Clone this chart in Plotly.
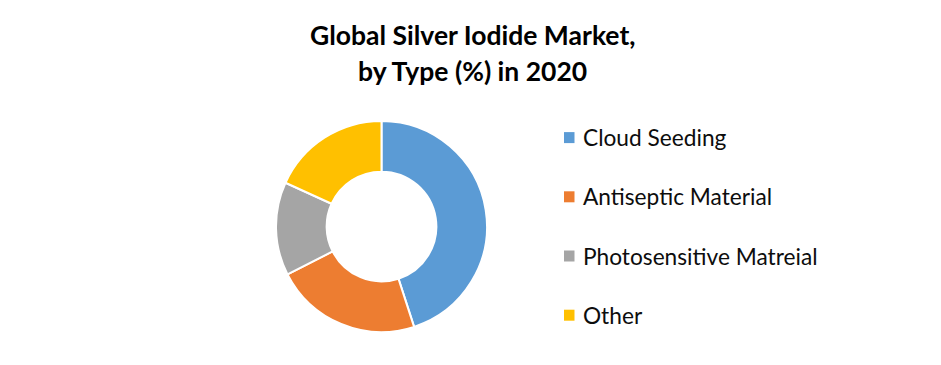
import plotly.graph_objects as go

labels = ["Cloud Seeding", "Antiseptic Material", "Photosensitive Matreial", "Other"]
values = [45.0, 22.5, 14.3, 18.2]
colors = ["#5B9BD5", "#ED7D31", "#A5A5A5", "#FFC000"]
title_lines = ["Global Silver Iodide Market,", "by Type (%) in 2020"]

W, H = 941, 365
OFF = 8  # page body margin in pixels
FONT = "Lato"


def px(x):
    return (x - OFF) / W


def py(y):
    return (H - (y - OFF)) / H


fig = go.Figure(go.Pie(
    labels=labels,
    values=values,
    marker=dict(colors=colors, line=dict(color="white", width=2)),
    hole=0.52,
    sort=False,
    direction="clockwise",
    rotation=0,
    textinfo="none",
    hoverinfo="label+percent",
    showlegend=False,
    domain=dict(x=[px(276), px(487)], y=[py(332), py(121)]),
))

# Legend drawn as text + square markers
leg_x0 = 564
leg_y0 = 137.6
leg_step = 59.2
for i, (lab, col) in enumerate(zip(labels, colors)):
    yc = leg_y0 + i * leg_step
    fig.add_shape(type="rect", xref="paper", yref="paper",
                  x0=px(leg_x0), x1=px(leg_x0 + 10.5),
                  y0=py(yc + 5.5), y1=py(yc - 5.5),
                  fillcolor=col, line=dict(width=0))
    fig.add_annotation(text=lab, xref="paper", yref="paper",
                       x=px(580.5), y=py(yc),
                       xanchor="left", yanchor="middle", showarrow=False,
                       font=dict(family=FONT, size=22.7, color="#0d0d0d"))

# Title (two lines)
title_y = [35.0, 70.5]
for line, yc in zip(title_lines, title_y):
    fig.add_annotation(text="<b>" + line + "</b>", xref="paper", yref="paper",
                       x=px(472), y=py(yc), xanchor="center", yanchor="middle",
                       showarrow=False,
                       font=dict(family=FONT, size=26.5, color="black"))

fig.update_layout(
    width=W, height=H,
    margin=dict(l=0, r=0, t=0, b=0),
    paper_bgcolor="white", plot_bgcolor="white",
)

fig.write_html("out.html")
